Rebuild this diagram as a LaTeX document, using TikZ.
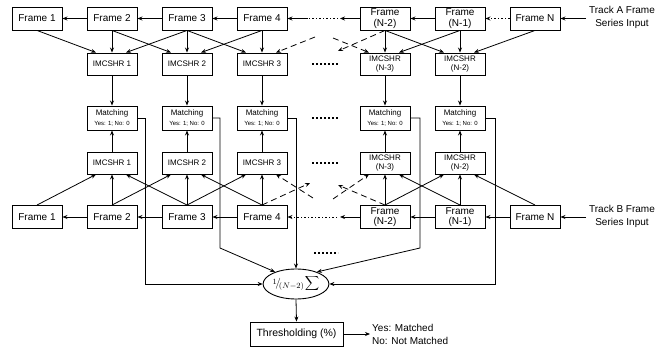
\documentclass[tikz,border=0pt]{standalone}
\usepackage{fontspec}
\setmainfont{Liberation Sans}
\usetikzlibrary{arrows.meta,shapes.geometric}
\begin{document}
\begin{tikzpicture}[x=1pt,y=-1pt,
  >={Stealth[length=5pt,width=4pt]},
  conn/.style={->,line width=0.8pt},
  dsh/.style={dash pattern=on 6pt off 4pt},
  dotl/.style={line width=0.9pt,dash pattern=on 1.5pt off 2pt},
  dots/.style={line width=1.1pt,dash pattern=on 2.4pt off 1.6pt},
  frm/.style={draw,line width=0.9pt,minimum width=50pt,minimum height=23pt,inner sep=0.5pt,align=center,font=\fontsize{10}{10.8}\selectfont},
  imc/.style={draw,line width=0.9pt,minimum width=50pt,minimum height=22pt,inner sep=0.5pt,align=center,font=\fontsize{8}{9.5}\selectfont},
  mat/.style={draw,line width=0.9pt,minimum width=50pt,minimum height=24pt,inner sep=0.5pt,align=center,font=\fontsize{8}{9.5}\selectfont},
  lbl/.style={align=center,inner sep=0pt,font=\fontsize{10}{12.5}\selectfont}
]
\useasboundingbox (0,0) rectangle (658,352);

% top frames (Track A)
\node[frm] (a1) at (37,18.5) {Frame 1};
\node[frm] (a2) at (112,18.5) {Frame 2};
\node[frm] (a3) at (187,18.5) {Frame 3};
\node[frm] (a4) at (262,18.5) {Frame 4};
\node[frm] (aN2) at (385,18.5) {Frame\\(N-2)};
\node[frm] (aN1) at (460,18.5) {Frame\\(N-1)};
\node[frm] (aN) at (535,18.5) {Frame N};
\node[lbl] (ta) at (622,17.5) {Track A Frame\\Series Input};

% top IMCSHR
\node[imc] (i1) at (112,64) {IMCSHR 1};
\node[imc] (i2) at (187,64) {IMCSHR 2};
\node[imc] (i3) at (262,64) {IMCSHR 3};
\node[imc] (iN3) at (385,64) {IMCSHR\\(N-3)};
\node[imc] (iN2) at (460,64) {IMCSHR\\(N-2)};

% matching
\node[mat] (m1) at (112,118) {Matching\\{\fontsize{6}{7}\selectfont Yes: 1; No: 0}};
\node[mat] (m2) at (187,118) {Matching\\{\fontsize{6}{7}\selectfont Yes: 1; No: 0}};
\node[mat] (m3) at (262,118) {Matching\\{\fontsize{6}{7}\selectfont Yes: 1; No: 0}};
\node[mat] (mN3) at (385,118) {Matching\\{\fontsize{6}{7}\selectfont Yes: 1; No: 0}};
\node[mat] (mN2) at (460,118) {Matching\\{\fontsize{6}{7}\selectfont Yes: 1; No: 0}};

% lower IMCSHR
\node[imc] (j1) at (112,163) {IMCSHR 1};
\node[imc] (j2) at (187,163) {IMCSHR 2};
\node[imc] (j3) at (262,163) {IMCSHR 3};
\node[imc] (jN3) at (385,163) {IMCSHR\\(N-3)};
\node[imc] (jN2) at (460,163) {IMCSHR\\(N-2)};

% lower frames (Track B)
\node[frm] (b1) at (37,217) {Frame 1};
\node[frm] (b2) at (112,217) {Frame 2};
\node[frm] (b3) at (187,217) {Frame 3};
\node[frm] (b4) at (262,217) {Frame 4};
\node[frm] (bN2) at (385,217) {Frame\\(N-2)};
\node[frm] (bN1) at (460,217) {Frame\\(N-1)};
\node[frm] (bN) at (535,217) {Frame N};
\node[lbl] (tb) at (622,216.5) {Track B Frame\\Series Input};

% sum and threshold
\node[draw,ellipse,line width=0.9pt,minimum width=50pt,minimum height=30pt,inner sep=0pt] (sum) at (296,284)
  {\fontsize{11}{13}\selectfont$\raisebox{2.5pt}{$\scriptstyle 1$}\kern-1.5pt\big/\kern-2pt\raisebox{-2pt}{$\scriptstyle (N-2)$}\kern-1pt\displaystyle\sum$};
\node[draw,line width=0.9pt,minimum width=93pt,minimum height=24pt,inner sep=1pt,font=\fontsize{10.5}{12}\selectfont] (thr) at (296.5,334) {Thresholding (\%)};
\node[anchor=west,align=left,inner sep=0pt,font=\fontsize{10}{12.5}\selectfont] (res) at (372,334.5) {Yes: Matched\\No: Not Matched};

% free ends
\coordinate (inA) at (586,18.5);
\coordinate (inB) at (586,217);
\coordinate (out) at (370,334);
\coordinate (tA1) at (340,18.5);
\coordinate (tA2) at (338,18.5);
\coordinate (tA3) at (308,18.5);
\coordinate (tB1) at (340,217);
\coordinate (tB2) at (337,217);
\coordinate (d1) at (315,37);
\coordinate (d2) at (338,51);
\coordinate (d3) at (333,38);
\coordinate (e1) at (310,183);
\coordinate (e2) at (313,198);
\coordinate (e3) at (338,185);
\coordinate (e4) at (333,199);

% row arrows, top
\draw[conn] (inA) -- (aN.east);
\draw[conn,dotl] (aN.west) -- (aN1.east);
\draw[conn] (aN1.west) -- (aN2.east);
\draw[conn] (aN2.west) -- (tA1);
\draw[dotl] (tA2) -- (tA3);
\draw[conn] (tA3) -- (a4.east);
\draw[conn] (a4.west) -- (a3.east);
\draw[conn] (a3.west) -- (a2.east);
\draw[conn] (a2.west) -- (a1.east);

% row arrows, bottom
\draw[conn] (inB) -- (bN.east);
\draw[conn] (bN.west) -- (bN1.east);
\draw[conn] (bN1.west) -- (bN2.east);
\draw[conn] (bN2.west) -- (tB1);
\draw[conn,dotl] (tB2) -- (b4.east);
\draw[conn] (b4.west) -- (b3.east);
\draw[conn] (b3.west) -- (b2.east);
\draw[conn] (b2.west) -- (b1.east);

% frames -> top IMCSHR
\draw[conn] (a1.south) -- ([xshift=-16pt]i1.north);
\draw[conn] (a2.south) -- (i1.north);
\draw[conn] (a3.south) -- ([xshift=14pt]i1.north);
\draw[conn] (a2.south) -- ([xshift=-16pt]i2.north);
\draw[conn] (a3.south) -- (i2.north);
\draw[conn] (a4.south) -- ([xshift=14pt]i2.north);
\draw[conn] (a3.south) -- ([xshift=-16pt]i3.north);
\draw[conn] (a4.south) -- (i3.north);
\draw[conn,dsh] (d1) -- ([xshift=14pt]i3.north);
\draw[conn,dsh] (aN2.south) -- (d2);
\draw[conn,dsh] (d3) -- ([xshift=-16pt]iN3.north);
\draw[conn] (aN2.south) -- (iN3.north);
\draw[conn] (aN1.south) -- ([xshift=14pt]iN3.north);
\draw[conn] (aN2.south) -- ([xshift=-16pt]iN2.north);
\draw[conn] (aN1.south) -- (iN2.north);
\draw[conn] (aN.south) -- ([xshift=14pt]iN2.north);

% frames -> lower IMCSHR
\draw[conn] (b1.north) -- ([xshift=-16pt]j1.south);
\draw[conn] (b2.north) -- (j1.south);
\draw[conn] (b3.north) -- ([xshift=14pt]j1.south);
\draw[conn] (b2.north) -- ([xshift=-16pt]j2.south);
\draw[conn] (b3.north) -- (j2.south);
\draw[conn] (b4.north) -- ([xshift=14pt]j2.south);
\draw[conn] (b3.north) -- ([xshift=-16pt]j3.south);
\draw[conn] (b4.north) -- (j3.south);
\draw[conn,dsh] (b4.north) -- (e1);
\draw[conn,dsh] (e2) -- ([xshift=14pt]j3.south);
\draw[conn,dsh] (bN2.north) -- (e3);
\draw[conn,dsh] (e4) -- ([xshift=-16pt]jN3.south);
\draw[conn] (bN2.north) -- (jN3.south);
\draw[conn] (bN1.north) -- ([xshift=14pt]jN3.south);
\draw[conn] (bN2.north) -- ([xshift=-16pt]jN2.south);
\draw[conn] (bN1.north) -- (jN2.south);
\draw[conn] (bN.north) -- ([xshift=14pt]jN2.south);

% IMCSHR -> matching
\foreach \u/\m/\l in {i1/m1/j1,i2/m2/j2,i3/m3/j3,iN3/mN3/jN3,iN2/mN2/jN2}{
  \draw[conn] (\u.south) -- (\m.north);
  \draw[conn] (\l.north) -- (\m.south);
}

% matching -> sum
\draw[conn] (m1.east) -- ++(8,0) |- (sum.west);
\draw[conn] (m2.east) -- (220,118) -- (220,248) -- (sum.150);
\draw[conn] (m3.east) -- (sum.north |- m3.east) -- (sum.north);
\draw[conn] (mN3.east) -- (420,118) -- (420,248) -- (sum.30);
\draw[conn] (mN2.east) -- (495,118) |- (sum.east);

\draw[conn] (sum.south) -- (thr.north);
\draw[conn] (thr.east) -- (out);

% ellipsis marks
\draw[dots] (312,64) -- (338,64);
\draw[dots] (312,118) -- (338,118);
\draw[dots] (312,163) -- (338,163);
\draw[dots] (314,253) -- (338,253);
\end{tikzpicture}
\end{document}
